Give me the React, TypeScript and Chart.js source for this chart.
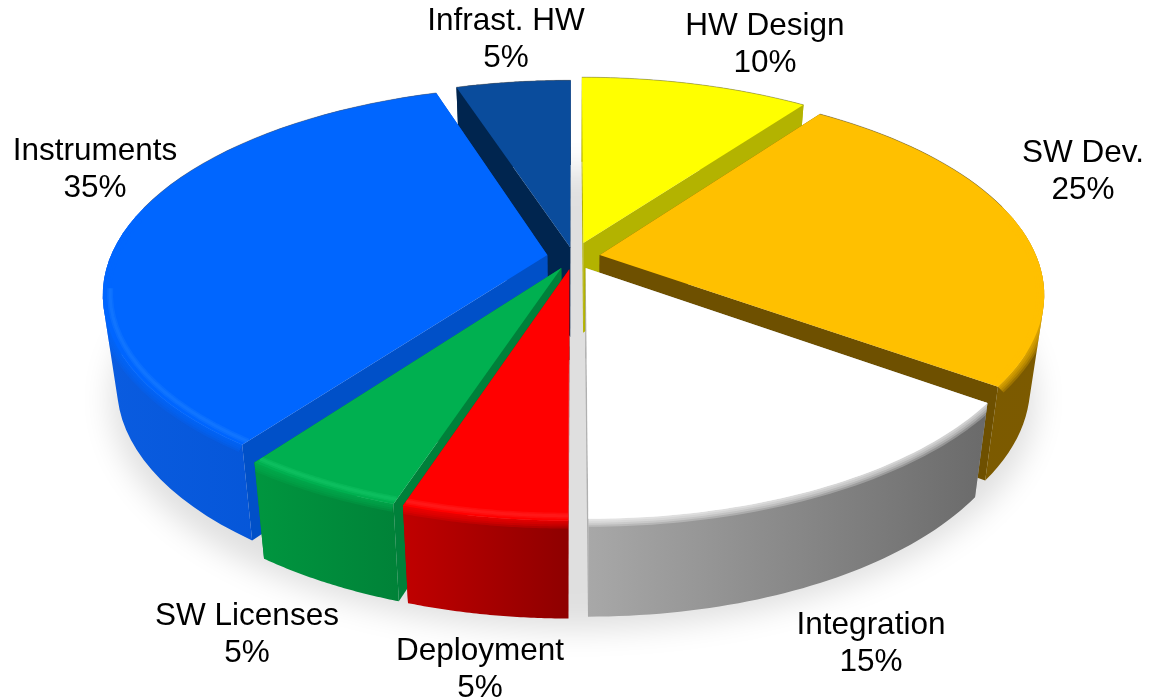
import React, { useEffect, useRef } from "react";
import { Chart, registerables } from "chart.js";

Chart.register(...registerables);

const categories = ["HW Design", "SW Dev.", "Integration", "Deployment", "SW Licenses", "Instruments", "Infrast. HW"];
const shares = [10, 25, 15, 5, 5, 35, 5];
const explode = [90, 74, 74, 74, 74, 74, 60];
const topColors = ["#ffff00", "#ffc000", "#ffffff", "#ff0000", "#00b050", "#0066ff", "#0a4c9c"];
const cutColors = ["#b3b300", "#6e5000", "#b0b0b0", "#a00000", "#00803a", "#0050c8", "#00254f"];
const wallLeft = ["#b3b300", "#7a5a00", "#a8a8a8", "#c00000", "#00963f", "#0a5ce0", "#00254f"];
const wallRight = ["#b3b300", "#7c5a00", "#6a6a6a", "#8e0000", "#008238", "#0050d0", "#00254f"];
const glow = ["", "", "", "#ff3a3a", "#20d878", "#2a8cff", ""];
const labelAnchors = [
  [765, 26.5], [1083, 153.5], [871, 625.5], [480, 651], [247, 616], [95, 151], [506, 21],
];

const CX = 573.5, CY = 257, S = 437, T = 200.7, K = 0.182;
const XB = 0.97, YB = 1.03, DROP = 90;

type P = [number, number];
const top = (u: number, v: number): P => {
  const w = 1 - K * v;
  return [CX + (S * u) / w, CY + (T * v) / w];
};
const bottom = (u: number, v: number): P => {
  const w = 1 - K * v;
  return [CX + ((S * u) / w) * XB, CY + ((T * v) / w) * YB + DROP];
};

function trace(ctx: CanvasRenderingContext2D, pts: P[], close = true) {
  ctx.beginPath();
  pts.forEach((p, i) => (i ? ctx.lineTo(p[0], p[1]) : ctx.moveTo(p[0], p[1])));
  if (close) ctx.closePath();
}

function addPoly(path: Path2D, pts: P[]) {
  let area = 0;
  pts.forEach((p, i) => {
    const q = pts[(i + 1) % pts.length];
    area += p[0] * q[1] - q[0] * p[1];
  });
  const ordered = area < 0 ? [...pts].reverse() : pts;
  ordered.forEach((p, i) => (i ? path.lineTo(p[0], p[1]) : path.moveTo(p[0], p[1])));
  path.closePath();
}

const piePlugin = {
  id: "perspectivePie",
  beforeDatasetsDraw(chart: any) {
    const ctx: CanvasRenderingContext2D = chart.ctx;
    const arcs = chart.getDatasetMeta(0).data as any[];

    // soft ground shadow: only the blurred shadow of an off-canvas shape shows
    const ring: P[] = [];
    for (let i = 0; i <= 180; i++) {
      const a = (i / 180) * Math.PI * 2;
      const p = bottom(1.07 * Math.cos(a), 1.07 * Math.sin(a));
      ring.push([p[0] - 3000, p[1]]);
    }
    ctx.save();
    ctx.shadowColor = "rgba(0,0,0,0.125)";
    ctx.shadowBlur = 30;
    ctx.shadowOffsetX = 3000;
    ctx.shadowOffsetY = 8;
    ctx.fillStyle = "#000";
    trace(ctx, ring);
    ctx.fill();
    ctx.restore();

    const order = arcs
      .map((arc, i) => ({ arc, i, d: Math.sin((arc.startAngle + arc.endAngle) / 2) }))
      .sort((a, b) => a.d - b.d);

    for (const { arc, i } of order) {
      const mid = (arc.startAngle + arc.endAngle) / 2;
      const off = arc.options.offset / 4 / arc.outerRadius;
      const ox = Math.cos(mid) * off;
      const oy = Math.sin(mid) * off;
      const n = 48;
      const rim: [number, number][] = [];
      for (let k = 0; k <= n; k++) {
        const a = arc.startAngle + ((arc.endAngle - arc.startAngle) * k) / n;
        rim.push([Math.cos(a) + ox, Math.sin(a) + oy]);
      }
      const topRim = rim.map(([u, v]) => top(u, v));
      const botRim = rim.map(([u, v]) => bottom(u, v));
      const apexT = top(ox, oy);
      const apexB = bottom(ox, oy);

      // radial cut walls
      ctx.fillStyle = cutColors[i];
      trace(ctx, [apexT, topRim[0], botRim[0], apexB]);
      ctx.fill();
      trace(ctx, [apexT, topRim[n], botRim[n], apexB]);
      ctx.fill();

      // outer wall: one path of same-wound quads, filled at once, so no seams
      const xs = [...topRim, ...botRim].map((p) => p[0]);
      const g = ctx.createLinearGradient(Math.min(...xs), 0, Math.max(...xs), 0);
      g.addColorStop(0, wallLeft[i]);
      g.addColorStop(1, wallRight[i]);
      ctx.fillStyle = g;
      const wallPath = new Path2D();
      for (let k = 0; k < n; k++) {
        addPoly(wallPath, [topRim[k], topRim[k + 1], botRim[k + 1], botRim[k]]);
      }
      ctx.fill(wallPath);

      // top face
      const face: P[] = [apexT, ...topRim];
      ctx.fillStyle = topColors[i];
      trace(ctx, face);
      ctx.fill();

      // soft bevel along the front part of the rim
      const front = rim
        .map(([u, v], k) => ({ v, p: topRim[k], u }))
        .filter((r) => r.v > -0.25);
      if (front.length > 1) {
        ctx.save();
        const clip = new Path2D(wallPath);
        addPoly(clip, face);
        ctx.clip(clip);
        ctx.lineJoin = "round";
        ctx.strokeStyle = topColors[i];
        [16, 12, 8, 4].forEach((w) => {
          ctx.globalAlpha = 0.25;
          ctx.lineWidth = w;
          trace(ctx, front.map((r) => r.p), false);
          ctx.stroke();
        });
        const lit = front.filter((r) => r.v > 0.15);
        if (glow[i] && lit.length > 1) {
          ctx.strokeStyle = glow[i];
          [6, 3].forEach((w) => {
            ctx.lineWidth = w;
            ctx.globalAlpha = 0.22;
            trace(ctx, lit.map((r) => top(r.u * 0.985, r.v * 0.985)), false);
            ctx.stroke();
          });
        }
        ctx.restore();
      }

      // thin edge on the far rim
      const far = rim.map(([, v], k) => ({ v, p: topRim[k] })).filter((r) => r.v < -0.25);
      if (far.length > 1) {
        ctx.save();
        ctx.strokeStyle = "rgba(90,90,90,0.55)";
        ctx.lineWidth = 0.8;
        trace(ctx, far.map((r) => r.p), false);
        ctx.stroke();
        ctx.restore();
      }
    }

    // labels
    ctx.save();
    ctx.fillStyle = "#000";
    ctx.font = '31.5px "Liberation Sans", Arial, sans-serif';
    ctx.textAlign = "center";
    ctx.textBaseline = "middle";
    categories.forEach((name, i) => {
      const [x, y] = labelAnchors[i];
      ctx.fillText(name, x, y);
      ctx.fillText(`${shares[i]}%`, x, y + 37);
    });
    ctx.restore();
    return false;
  },
};

export default function App() {
  const ref = useRef<HTMLCanvasElement>(null);
  useEffect(() => {
    document.body.style.margin = "0";
    const chart = new Chart(ref.current!, {
      type: "pie",
      data: {
        labels: categories,
        datasets: [
          {
            data: shares,
            backgroundColor: topColors,
            borderWidth: 0,
            offset: explode,
          },
        ],
      },
      options: {
        responsive: false,
        animation: false,
        plugins: { legend: { display: false }, tooltip: { enabled: false } },
      },
      plugins: [piePlugin],
    } as any);
    return () => chart.destroy();
  }, []);
  return (
    <div style={{ width: 1152, height: 699, background: "#fff" }}>
      <canvas ref={ref} width={1152} height={699} style={{ display: "block" }} />
    </div>
  );
}
